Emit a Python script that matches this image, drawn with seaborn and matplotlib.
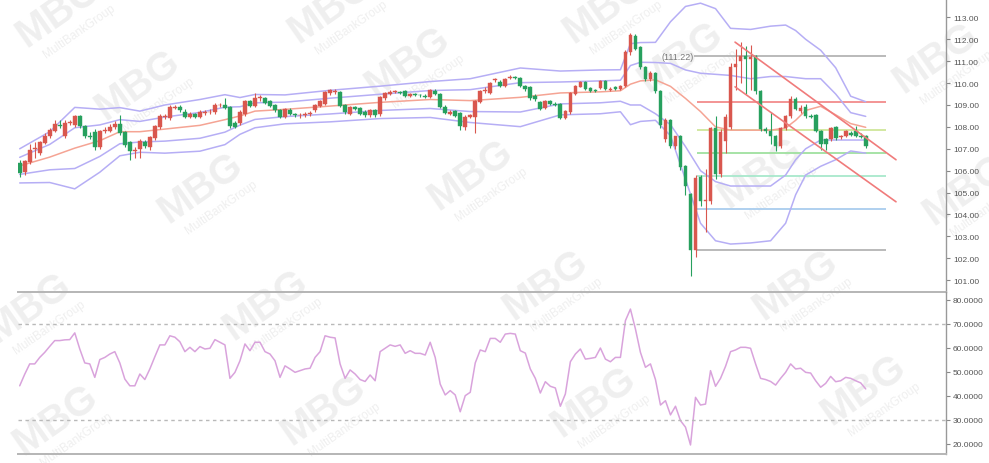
import numpy as np
import pandas as pd
import matplotlib.pyplot as plt
import seaborn as sns

# candle data (index 0 = first candle)
opens = [106.37, 105.92, 106.38, 106.98, 106.8, 107.26, 107.57, 107.82, 108.1, 107.6,
         108.18, 108.08, 108.48, 108.05, 107.6, 107.77, 107.06, 107.8, 107.82, 108.0,
         108.13, 107.75, 107.29, 106.9, 106.99, 107.3, 107.06, 107.47, 107.98, 108.43,
         108.39, 108.88, 108.9, 108.7, 108.45, 108.6, 108.45, 108.62, 108.66, 108.66,
         108.98, 108.98, 108.9, 108.2, 108.2, 108.58, 109.19, 108.96, 109.3, 109.3,
         109.19, 108.99, 108.77, 108.45, 108.75, 108.58, 108.52, 108.55, 108.6, 108.78,
         108.95, 109.05, 109.55, 109.6, 109.58, 109.0, 108.6, 108.9, 108.85, 108.68,
         108.53, 108.75, 108.58, 109.3, 109.5, 109.6, 109.6, 109.62, 109.42, 109.48,
         109.45, 109.42, 109.35, 109.65, 109.5, 108.92, 108.6, 108.72, 108.62, 108.0,
         108.45, 108.43, 109.15, 109.62, 109.55, 110.12, 110.05, 109.88, 110.25, 110.28,
         110.22, 109.86, 109.82, 109.42, 109.13, 108.86, 109.2, 109.05, 109.04, 108.4,
         108.68, 109.5, 109.84, 110.05, 109.78, 109.7, 109.77, 110.09, 109.7, 109.8,
         109.75, 109.86, 111.41, 112.14, 111.64, 110.73, 110.18, 110.46, 109.64, 107.44,
         108.31, 107.12, 107.58, 106.2, 104.93, 102.39, 105.7, 104.6, 104.6, 107.94,
         105.84, 107.35, 107.99, 110.73, 111.02, 111.25, 111.1, 111.23, 109.64, 107.9,
         107.81, 107.58, 107.12, 107.94, 108.49, 109.27, 108.72, 108.9, 108.5, 108.54,
         107.81, 107.44, 107.44, 107.99, 107.55, 107.6, 107.7, 107.82, 107.6, 107.58]
highs = [106.5, 106.5, 107.2, 107.3, 107.35, 107.7, 107.95, 108.3, 108.3, 108.3,
         108.3, 108.55, 108.55, 108.1, 107.75, 107.9, 107.85, 108.0, 108.15, 108.25,
         108.55, 107.8, 107.35, 107.1, 107.45, 107.4, 107.6, 108.1, 108.6, 108.6,
         109.0, 109.0, 108.98, 108.8, 108.7, 108.65, 108.75, 108.75, 108.8, 109.1,
         109.1, 109.3, 108.95, 108.25, 108.75, 109.25, 109.25, 109.55, 109.45, 109.35,
         109.25, 109.05, 108.8, 108.88, 108.85, 108.65, 108.62, 108.68, 108.72, 109.05,
         109.25, 109.65, 109.75, 109.75, 109.65, 109.05, 108.95, 108.95, 108.9, 108.75,
         108.8, 108.8, 109.4, 109.6, 109.7, 109.7, 109.65, 109.68, 109.55, 109.55,
         109.5, 109.48, 109.75, 109.72, 109.55, 108.98, 108.75, 108.78, 108.68, 108.55,
         108.58, 109.25, 109.68, 109.8, 110.05, 110.25, 110.12, 110.22, 110.35, 110.33,
         110.28, 109.9, 109.88, 109.48, 109.2, 109.25, 109.25, 109.12, 109.1, 108.78,
         109.6, 109.9, 110.1, 110.1, 109.82, 109.75, 110.12, 110.12, 109.8, 109.85,
         109.9, 111.5, 112.3, 112.25, 111.7, 110.8, 110.55, 110.5, 109.7, 108.4,
         108.35, 107.6, 107.62, 106.25, 105.0, 105.8, 105.8, 106.06, 108.0, 108.5,
         107.9, 108.6, 110.9, 111.55, 111.86, 111.7, 111.75, 111.3, 109.7, 108.0,
         108.67, 107.65, 108.0, 108.55, 109.4, 109.35, 109.0, 109.05, 108.6, 108.6,
         107.88, 107.5, 108.0, 108.05, 107.65, 107.85, 107.8, 108.02, 107.7, 107.65]
lows = [105.7, 105.8, 106.3, 106.6, 106.7, 107.2, 107.5, 107.75, 107.95, 107.5,
        108.1, 108.0, 107.95, 107.5, 107.45, 106.95, 107.0, 107.7, 107.75, 107.9,
        107.65, 107.1, 106.5, 106.6, 106.6, 107.05, 106.95, 107.4, 107.9, 108.35,
        108.3, 108.8, 108.7, 108.4, 108.4, 108.4, 108.4, 108.55, 108.6, 108.6,
        108.9, 108.8, 107.95, 107.95, 108.1, 108.5, 108.9, 108.9, 109.2, 109.05,
        108.9, 108.7, 108.4, 108.4, 108.55, 108.45, 108.4, 108.45, 108.5, 108.7,
        108.9, 109.0, 109.45, 109.5, 108.9, 108.6, 108.55, 108.75, 108.55, 108.45,
        108.45, 108.45, 108.5, 109.25, 109.45, 109.55, 109.5, 109.35, 109.38, 109.4,
        109.38, 109.32, 109.3, 109.45, 108.85, 108.6, 108.55, 108.45, 107.85, 107.85,
        108.4, 107.7, 109.1, 109.55, 109.5, 110.05, 109.82, 109.82, 110.2, 110.2,
        109.8, 109.65, 109.25, 109.2, 108.75, 108.8, 109.0, 108.95, 108.35, 108.35,
        108.6, 109.45, 109.8, 109.68, 109.58, 109.6, 109.72, 109.68, 109.65, 109.68,
        109.7, 109.8, 111.3, 111.5, 110.65, 110.1, 110.1, 109.55, 107.95, 107.3,
        107.05, 107.0, 106.05, 104.9, 101.19, 102.05, 104.4, 103.18, 104.5, 105.6,
        105.7, 106.8, 107.9, 109.7, 110.0, 109.5, 109.7, 109.5, 107.8, 107.7,
        107.2, 106.9, 107.05, 107.85, 108.4, 108.75, 108.65, 108.4, 108.4, 107.75,
        106.95, 106.95, 107.35, 107.4, 107.45, 107.55, 107.6, 107.55, 107.5, 107.05]
closes = [105.89, 106.42, 106.95, 107.05, 107.29, 107.6, 107.87, 108.13, 108.05, 108.2,
          108.22, 108.48, 108.05, 107.57, 107.55, 107.06, 107.8, 107.88, 108.0, 108.13,
          107.72, 107.17, 106.91, 106.95, 107.37, 107.15, 107.52, 108.02, 108.51, 108.5,
          108.89, 108.93, 108.75, 108.45, 108.6, 108.47, 108.68, 108.68, 108.7, 109.0,
          109.0, 108.85, 108.02, 108.0, 108.66, 109.19, 108.95, 109.3, 109.35, 109.1,
          108.96, 108.76, 108.45, 108.81, 108.6, 108.52, 108.55, 108.6, 108.65, 109.0,
          109.18, 109.6, 109.7, 109.65, 108.96, 108.66, 108.9, 108.8, 108.6, 108.53,
          108.75, 108.53, 109.35, 109.53, 109.6, 109.62, 109.55, 109.4, 109.5, 109.45,
          109.44, 109.38, 109.68, 109.5, 108.89, 108.63, 108.68, 108.5, 108.05, 108.45,
          108.52, 109.19, 109.62, 109.7, 110.0, 110.2, 109.88, 110.18, 110.3, 110.25,
          109.86, 109.72, 109.31, 109.27, 108.81, 109.18, 109.05, 109.0, 108.4, 108.72,
          109.54, 109.86, 110.05, 109.73, 109.62, 109.65, 110.09, 109.73, 109.75, 109.72,
          109.85, 111.41, 112.19, 111.55, 110.73, 110.18, 110.46, 109.64, 108.08, 108.31,
          107.12, 107.58, 106.16, 105.3, 102.39, 105.66, 104.6, 104.65, 107.94, 105.84,
          107.76, 108.45, 110.73, 110.87, 111.25, 111.1, 111.2, 109.64, 107.9, 107.8,
          107.58, 107.12, 107.94, 108.49, 109.27, 108.81, 108.86, 108.49, 108.45, 107.81,
          107.21, 107.21, 107.94, 107.49, 107.6, 107.8, 107.65, 107.6, 107.55, 107.12]

# bollinger style bands, sampled at these candle indices
band_idx = [0, 6, 11, 16, 20, 24, 29, 36, 41, 44, 47, 53, 62, 72, 82, 90, 100, 108, 116, 120,
            122, 124, 127, 130, 133, 136, 139, 142, 146, 150, 153, 155, 157, 160, 163, 166, 169]
band_mid = [106.22, 106.62, 107.03, 107.37, 107.78, 107.78, 107.9, 108.07, 108.33, 108.5,
            108.72, 108.8, 108.95, 109.12, 109.25, 109.2, 109.35, 109.55, 109.6, 109.65,
            109.95, 110.1, 110.15, 109.85, 109.3, 108.7, 108.0, 107.85, 107.85, 107.85,
            107.95, 108.3, 108.75, 108.94, 108.55, 108.15, 107.98]
band_up2 = [107.0, 107.78, 108.89, 108.81, 108.88, 108.72, 109.0, 109.25, 109.47, 109.34,
            109.48, 109.46, 109.67, 109.86, 110.07, 110.2, 110.69, 110.55, 110.6, 110.61,
            111.8, 111.85, 111.86, 112.8, 113.5, 113.65, 113.4, 112.5, 112.45, 112.6,
            112.65, 112.4, 112.0, 111.5, 110.7, 109.4, 109.15]
band_up1 = [106.61, 107.2, 107.96, 108.09, 108.33, 108.25, 108.45, 108.66, 108.9, 108.92,
            109.1, 109.13, 109.31, 109.49, 109.66, 109.7, 110.02, 110.05, 110.1, 110.13,
            110.8, 110.95, 110.94, 110.9, 110.6, 110.45, 110.4, 110.35, 110.2, 110.3,
            110.3, 110.25, 110.2, 110.2, 109.5, 108.65, 108.48]
band_lo1 = [105.83, 106.04, 106.1, 106.65, 107.23, 107.31, 107.35, 107.48, 107.76, 108.08,
            108.34, 108.47, 108.59, 108.75, 108.84, 108.7, 108.68, 109.05, 109.1, 109.17,
            109.0, 109.0, 108.6, 108.1, 107.1, 106.0, 105.5, 105.3, 105.3, 105.3,
            105.8, 106.5, 107.0, 107.4, 107.4, 107.4, 107.4]
band_lo2 = [105.44, 105.46, 105.17, 105.93, 106.68, 106.84, 106.8, 106.89, 107.19, 107.66,
            107.96, 108.14, 108.23, 108.38, 108.43, 108.2, 108.01, 108.55, 108.6, 108.69,
            108.1, 108.25, 108.3, 107.6, 105.6, 103.6, 102.8, 102.65, 102.7, 102.8,
            103.6, 104.9, 105.8, 106.2, 106.5, 106.9, 106.8]

rsi = [44.2, 49.0, 53.3, 53.3, 56.0, 58.1, 60.6, 63.0, 63.0, 63.3,
       63.4, 66.2, 59.5, 53.7, 53.3, 47.7, 55.1, 56.0, 57.4, 58.4,
       53.7, 47.0, 44.2, 44.2, 49.1, 46.8, 51.2, 56.3, 61.2, 61.2,
       65.0, 64.4, 62.5, 58.4, 60.2, 58.4, 60.5, 59.5, 59.8, 63.4,
       62.3, 61.2, 47.3, 49.8, 54.6, 61.6, 58.8, 62.3, 62.3, 58.4,
       57.4, 54.6, 47.7, 52.5, 51.2, 49.8, 50.5, 51.2, 51.5, 56.0,
       58.4, 65.0, 64.4, 64.1, 53.3, 47.3, 50.8, 49.1, 46.8, 46.0,
       48.7, 46.3, 58.4, 59.8, 61.2, 60.6, 61.2, 57.7, 58.8, 57.7,
       57.7, 57.0, 62.3, 56.0, 44.9, 40.4, 42.2, 40.4, 33.4, 40.1,
       41.5, 53.7, 59.1, 58.4, 63.9, 63.9, 62.3, 65.7, 66.0, 65.7,
       58.8, 57.8, 51.2, 47.3, 41.2, 45.9, 44.0, 43.3, 35.7, 40.8,
       54.2, 57.4, 59.5, 55.3, 55.6, 56.0, 59.9, 55.3, 54.2, 56.0,
       56.0, 71.3, 76.1, 67.8, 58.1, 51.9, 53.3, 46.8, 36.2, 38.0,
       32.1, 35.7, 29.7, 27.0, 19.6, 39.4, 36.2, 36.6, 50.5, 44.0,
       47.3, 52.3, 58.4, 59.1, 60.2, 60.2, 59.8, 53.3, 47.3, 46.8,
       46.0, 44.5, 47.3, 49.8, 53.3, 51.2, 51.5, 49.8, 49.5, 46.3,
       43.6, 45.2, 48.1, 45.9, 46.3, 47.7, 47.3, 46.3, 45.4, 42.9]

fib_levels = [111.22, 109.12, 107.87, 106.80, 105.74, 104.25, 102.39]
fib_colors = ['#b4b4b4', '#f28b8b', '#cfe69a', '#9fe09f', '#a8e8cc', '#a9cdee', '#b4b4b4']
fib_label = '(111.22)'

trend_x = [142.9, 175.05]
trend_upper = [111.87, 106.50]
trend_lower = [109.83, 104.58]

rsi_levels = [70, 30]

UP = '#d9574e'
DOWN = '#27a05e'
BAND = '#b6aef5'
MID = '#f5a494'
FRAME = '#b5b5b5'

sns.set_theme(style='white')
plt.rcParams['font.family'] = ['Liberation Sans', 'DejaVu Sans']

fig = plt.figure(figsize=(9.89, 4.64), dpi=100)
W, H = 989, 464
x0, x1 = 17.5, 946
ax = fig.add_axes([x0 / W, 1 - 293 / H, (x1 - x0) / W, 293 / H])
ax2 = fig.add_axes([x0 / W, 1 - 454.5 / H, (x1 - x0) / W, 161.5 / H])
ax.set_zorder(2)
ax2.set_zorder(2)

step = 5.006
xl = ((x0 - 19.7) / step, (x1 - 19.7) / step)

df = pd.DataFrame({'open': opens, 'high': highs, 'low': lows, 'close': closes})
df['idx'] = np.arange(len(df))
df['up'] = df['close'] >= df['open']

# watermarks (behind the axes)
marks = [(58, 12), (137, 85), (200, 188), (407, 62), (470, 175), (545, 285), (680, 57),
         (760, 173), (795, 285), (935, 58), (965, 190), (28, 308), (265, 305), (55, 420),
         (323, 410), (593, 402), (863, 390), (330, 8), (605, 8)]
ang = np.deg2rad(35)
for mx, my in marks:
    fig.text(mx / W, 1 - my / H, 'MBG', fontsize=29, fontweight='bold', color='#efefef',
             rotation=35, ha='center', va='center', rotation_mode='anchor', zorder=0)
    ox, oy = mx + 24 * np.sin(ang) + 8, my + 24 * np.cos(ang)
    fig.text(ox / W, 1 - oy / H, 'MultiBankGroup', fontsize=8.5, color='#efefef',
             rotation=35, ha='center', va='center', rotation_mode='anchor', zorder=0)

# bands
for vals, col in [(band_up2, BAND), (band_up1, BAND), (band_lo1, BAND), (band_lo2, BAND), (band_mid, MID)]:
    sns.lineplot(x=band_idx, y=vals, ax=ax, color=col, lw=1.1, zorder=2)

# fibonacci levels
for i, (lv, c) in enumerate(zip(fib_levels, fib_colors)):
    start = 134.7 if i == 0 else 135.2
    ax.hlines(lv, start, 173.0, color=c, lw=1.3, zorder=1)
ax.text(128.3, fib_levels[0], fib_label, fontsize=6.5, color='#777777', va='center', ha='left')

# candles
for up, col in [(True, UP), (False, DOWN)]:
    d = df[df['up'] == up]
    ax.vlines(d['idx'], d['low'], d['high'], color=col, lw=0.8, zorder=3)
    body = (d['close'] - d['open']).abs().clip(lower=0.03)
    ax.bar(d['idx'], body, bottom=d[['open', 'close']].min(axis=1), width=0.74,
           color=col, edgecolor=col, lw=0.3, zorder=4)

# channel
ax.plot(trend_x, trend_upper, color='#f07b7b', lw=1.2, zorder=5)
ax.plot(trend_x, trend_lower, color='#f07b7b', lw=1.2, zorder=5)

ax.set_xlim(*xl)
ax.set_ylim(100.46, 113.84)
ax.set_yticks(np.arange(101, 114, 1))
ax.set_yticklabels([f'{v:.2f}' for v in np.arange(101, 114, 1)])

# rsi
sns.lineplot(x=df['idx'], y=rsi, ax=ax2, color='#d9a3dc', lw=1.1)
for lv in rsi_levels:
    ax2.axhline(lv, color='#b9b9b9', lw=1, ls=(0, (2.5, 2.5)))
ax2.set_xlim(*xl)
ax2.set_ylim(16.05, 83.2)
ax2.set_yticks(np.arange(20, 81, 10))
ax2.set_yticklabels([f'{v:.4f}' for v in np.arange(20, 81, 10)])

for a in (ax, ax2):
    a.set_xticks([])
    a.set_xlabel('')
    a.set_ylabel('')
    a.yaxis.tick_right()
    a.tick_params(axis='y', right=True, left=False, length=3, width=0.8, color='#888888',
                  labelsize=6, labelcolor='#555555', pad=2)
    a.patch.set_alpha(0)
    for s in a.spines.values():
        s.set_visible(False)
    a.spines['right'].set_visible(True)
    a.spines['right'].set_color('#999999')
    a.spines['right'].set_linewidth(1)

ax.spines['bottom'].set_visible(True)
ax.spines['bottom'].set_color(FRAME)
ax.spines['bottom'].set_linewidth(1.4)
ax2.spines['bottom'].set_visible(True)
ax2.spines['bottom'].set_color(FRAME)
ax2.spines['bottom'].set_linewidth(1.4)

fig.savefig('out.png', dpi=100, facecolor='white')
